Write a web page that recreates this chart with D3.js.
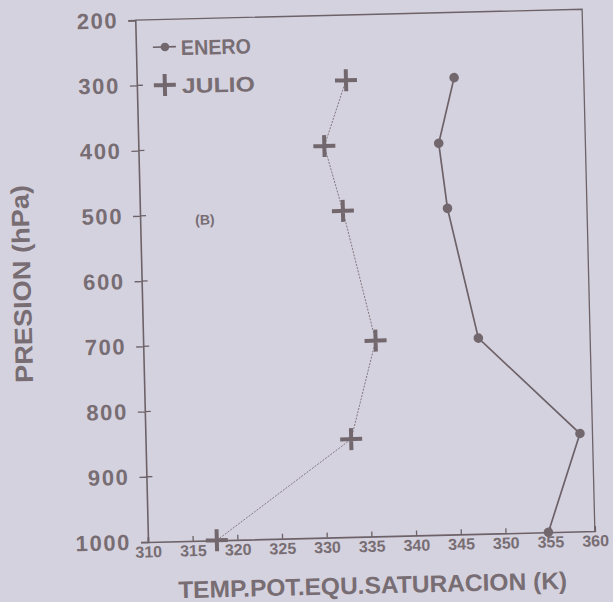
<!DOCTYPE html>
<html>
<head>
<meta charset="utf-8">
<script src="https://cdn.jsdelivr.net/npm/d3@7"></script>
<style>
  html, body { margin: 0; padding: 0; background: #d5d2df; }
  svg { display: block; }
  text { font-family: "Liberation Sans", Arial, Helvetica, sans-serif; font-weight: bold; fill: #776d73; }
</style>
</head>
<body>
<svg id="chart" width="613" height="602"></svg>
<script>
// Pressure levels (hPa) and saturation equivalent potential temperature (K)
const pressures = [300, 400, 500, 700, 850, 1000];
const eneroTemps = [345.5, 343.6, 344.4, 347.5, 358.6, 354.8];
const julioTemps = [333.4, 330.8, 332.7, 336.0, 333.0, 317.7];

const xTicks = [310, 315, 320, 325, 330, 335, 340, 345, 350, 355, 360];
const yTicks = [200, 300, 400, 500, 600, 700, 800, 900, 1000];

const seriesNames = ["ENERO", "JULIO"];
const xTitle = "TEMP.POT.EQU.SATURACION (K)";
const yTitle = "PRESION (hPa)";
const panelLabel = "(B)";

const ink = "#6c6268";
const W = 447, H = 522;

const svg = d3.select("#chart");
svg.append("rect").attr("width", 613).attr("height", 602).attr("fill", "#d5d2df");

// whole panel sits slightly tilted on the page
const g = svg.append("g")
  .attr("transform", "rotate(-1.4, 148, 542) translate(148, 20)");

const x = d3.scaleLinear().domain([310, 360]).range([0, W]);
const y = d3.scaleLinear().domain([200, 1000]).range([0, H]);

// frame: top and right edges
g.append("path")
  .attr("d", `M0,0H${W}V${H}`)
  .attr("fill", "none").attr("stroke", ink).attr("stroke-width", 1.3);

// left axis
const yAxis = g.append("g")
  .call(d3.axisLeft(y).tickValues(yTicks).tickSize(7).tickPadding(10).tickFormat(d3.format("d")));
yAxis.attr("font-family", null);
yAxis.select(".domain").attr("stroke", ink).attr("stroke-width", 1.6);
yAxis.selectAll(".tick line").attr("stroke", ink).attr("stroke-width", 1.3);
yAxis.selectAll(".tick text").attr("font-size", 22).attr("letter-spacing", 1.6).attr("fill", "#776d73");
// inward half of the crossing ticks
g.append("g").selectAll("line").data(yTicks.filter(d => d > 200 && d < 1000)).join("line")
  .attr("x1", 0).attr("x2", 6)
  .attr("y1", d => y(d)).attr("y2", d => y(d))
  .attr("stroke", ink).attr("stroke-width", 1.3);

// bottom axis with inward ticks
const xAxis = g.append("g").attr("transform", `translate(0,${H})`)
  .call(d3.axisBottom(x).tickValues(xTicks).tickSize(-5).tickPadding(4).tickFormat(d3.format("d")));
xAxis.attr("font-family", null);
xAxis.select(".domain").attr("stroke", ink).attr("stroke-width", 1.6);
xAxis.selectAll(".tick line").attr("stroke", ink).attr("stroke-width", 1.3);
xAxis.selectAll(".tick text").attr("font-size", 16).attr("fill", "#776d73");

// axis titles
g.append("text")
  .attr("x", W / 2).attr("y", H + 57)
  .attr("text-anchor", "middle")
  .attr("font-size", 24)
  .attr("textLength", 389).attr("lengthAdjust", "spacingAndGlyphs")
  .text(xTitle);

g.append("text")
  .attr("transform", `translate(-111, ${H / 2}) rotate(-90)`)
  .attr("text-anchor", "middle")
  .attr("font-size", 25)
  .attr("textLength", 198).attr("lengthAdjust", "spacingAndGlyphs")
  .text(yTitle);

// panel label
g.append("text")
  .attr("x", 55).attr("y", 206)
  .attr("font-size", 14)
  .text(panelLabel);

// series lines
const lineOf = temps => d3.line()
  .x((d, i) => x(temps[i]))
  .y(d => y(d))(pressures);

g.append("path")
  .attr("d", lineOf(julioTemps))
  .attr("fill", "none").attr("stroke", "#786e74")
  .attr("stroke-width", 0.9).attr("stroke-dasharray", "2,1.3");

g.append("path")
  .attr("d", lineOf(eneroTemps))
  .attr("fill", "none").attr("stroke", ink).attr("stroke-width", 1.7);

// markers
const markColor = "#72676d";
g.append("g").selectAll("circle").data(pressures).join("circle")
  .attr("cx", (d, i) => x(eneroTemps[i]))
  .attr("cy", d => y(d))
  .attr("r", 4.8)
  .attr("fill", markColor);

const plus = (sel, cx, cy, s) => {
  sel.append("path")
    .attr("d", `M${cx - s},${cy}H${cx + s}M${cx},${cy - s}V${cy + s}`)
    .attr("stroke", markColor).attr("stroke-width", 4).attr("fill", "none");
};
const plusG = g.append("g");
pressures.forEach((p, i) => plus(plusG, x(julioTemps[i]), y(p), 11));

// legend
const leg = g.append("g");
leg.append("line")
  .attr("x1", 17).attr("x2", 40).attr("y1", 27.5).attr("y2", 27.5)
  .attr("stroke", ink).attr("stroke-width", 1.7);
leg.append("circle").attr("cx", 29).attr("cy", 27.5).attr("r", 4.3).attr("fill", markColor);
leg.append("text").attr("x", 45).attr("y", 36).attr("font-size", 21)
  .attr("textLength", 70).attr("lengthAdjust", "spacingAndGlyphs").text(seriesNames[0]);

plus(leg, 28, 65.5, 11);
leg.append("text").attr("x", 45).attr("y", 74).attr("font-size", 21)
  .attr("textLength", 73).attr("lengthAdjust", "spacingAndGlyphs").text(seriesNames[1]);
</script>
</body>
</html>
